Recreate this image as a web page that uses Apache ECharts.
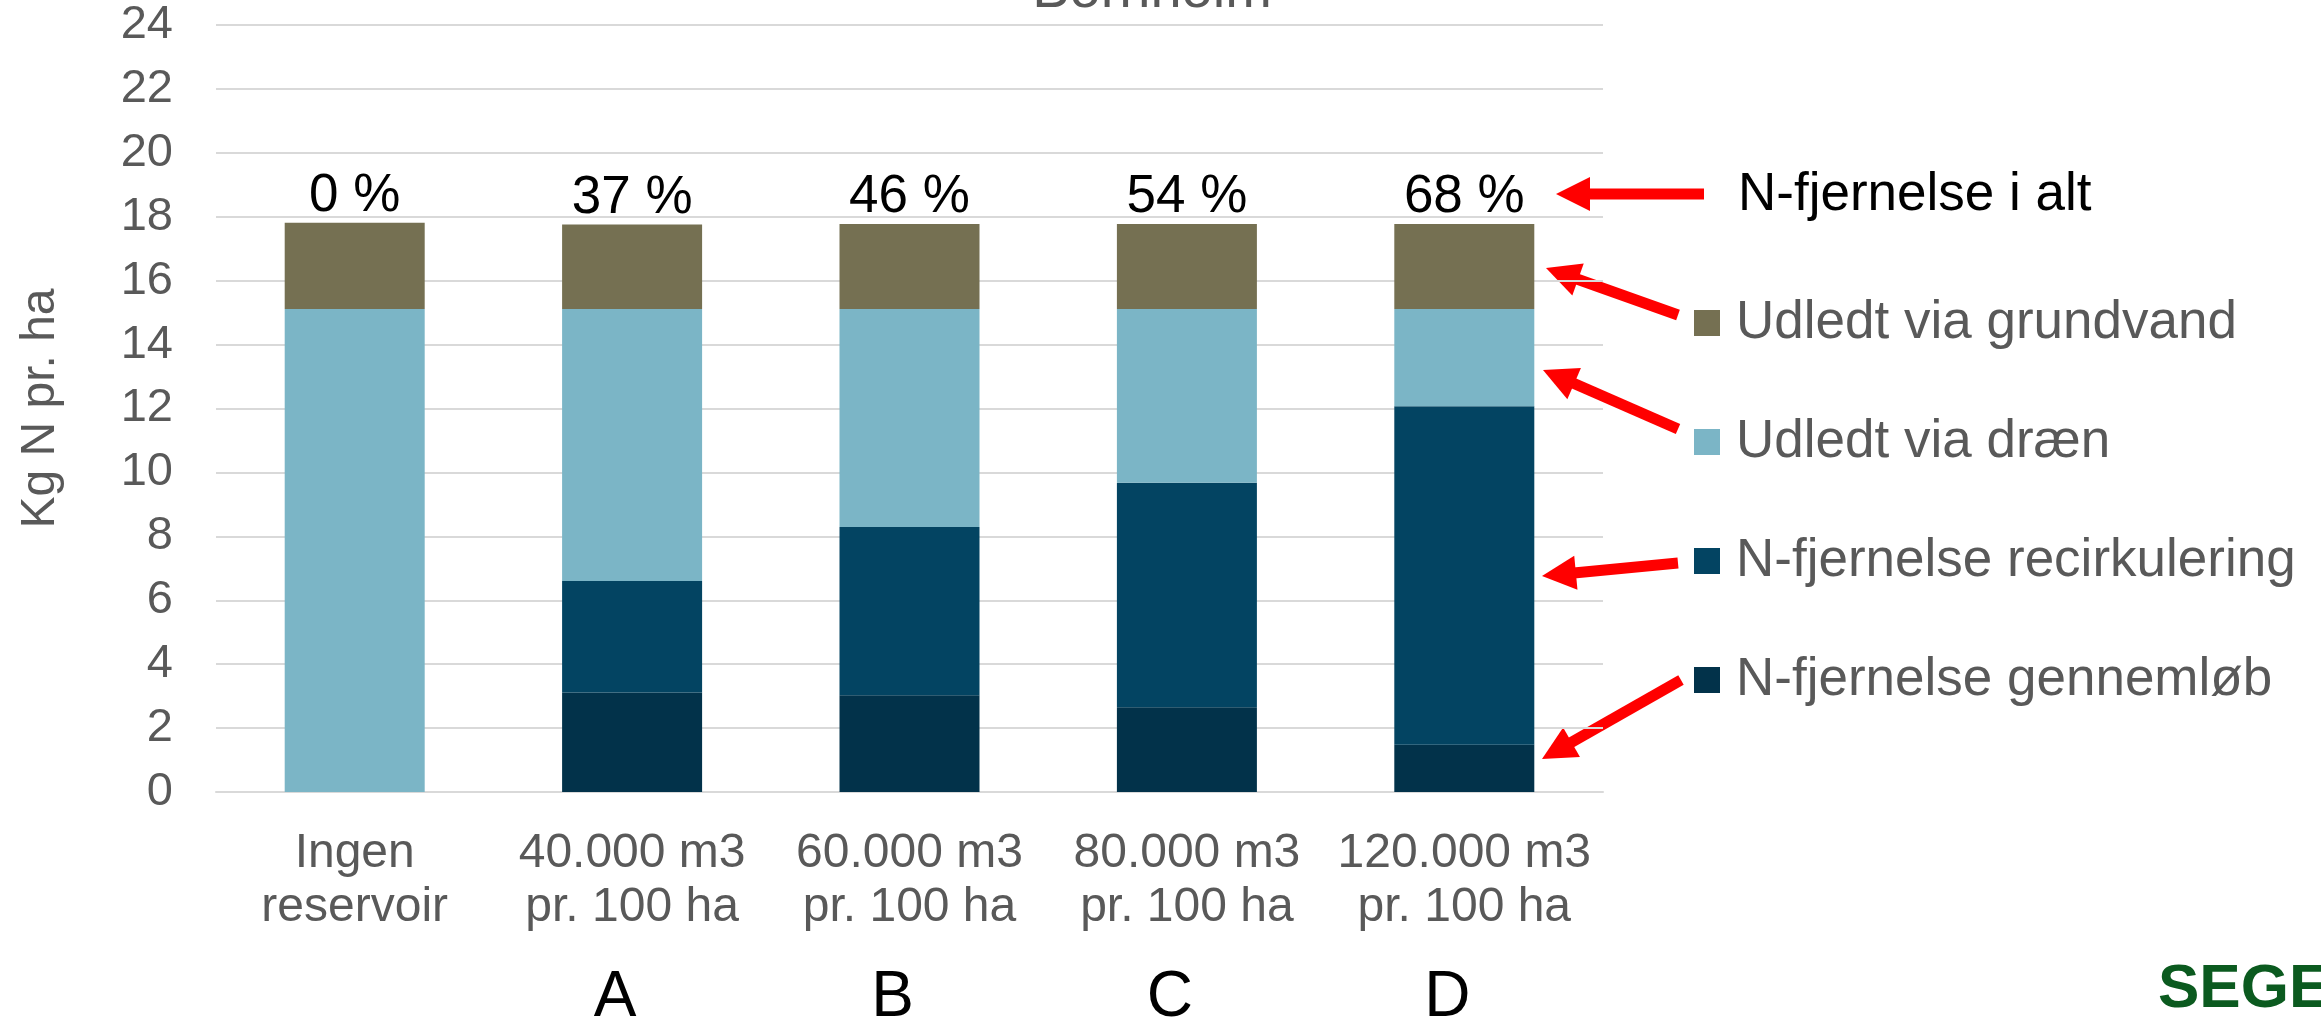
<!DOCTYPE html>
<html><head><meta charset="utf-8">
<script src="https://cdn.jsdelivr.net/npm/echarts@6/dist/echarts.min.js"></script>
<style>html,body{margin:0;padding:0;background:#fff}#c{width:2321px;height:1017px}</style>
</head><body><div id="c"></div>
<script>
// ---- data ----
const categories = ['Ingen\nreservoir', '40.000 m3\npr. 100 ha', '60.000 m3\npr. 100 ha', '80.000 m3\npr. 100 ha', '120.000 m3\npr. 100 ha'];
const scenarioLetters = ['', 'A', 'B', 'C', 'D'];
const gennemlob = [0, 3.11, 3.03, 2.65, 1.48];
const recirkulering = [0, 3.49, 5.26, 7.03, 10.59];
const draen = [15.11, 8.51, 6.82, 5.43, 3.04];
const grundvand = [2.70, 2.65, 2.66, 2.66, 2.66];
const removalPct = ['0 %', '37 %', '46 %', '54 %', '68 %'];
const seriesNames = ['N-fjernelse gennemløb', 'N-fjernelse recirkulering', 'Udledt via dræn', 'Udledt via grundvand'];
const legendOrder = ['Udledt via grundvand', 'Udledt via dræn', 'N-fjernelse recirkulering', 'N-fjernelse gennemløb'];
const yMin = 0, yMax = 24, yStep = 2;

const FONT = '"Liberation Sans", Arial, sans-serif';
const GREY = '#595959';
const colors = ['#02324a', '#034462', '#7bb5c6', '#757052'];

function arrow(tail, tip) {
  const dx = tip[0] - tail[0], dy = tip[1] - tail[1];
  const len = Math.hypot(dx, dy), ux = dx / len, uy = dy / len;
  const nx = -uy, ny = ux, L = 34, H = 17;
  const bx = tip[0] - ux * L, by = tip[1] - uy * L;
  return [
    { type: 'line', silent: true, shape: { x1: tail[0], y1: tail[1], x2: bx + ux * 2, y2: by + uy * 2 },
      style: { stroke: '#ff0000', lineWidth: 11, lineCap: 'butt' } },
    { type: 'polygon', silent: true, shape: { points: [tip, [bx + nx * H, by + ny * H], [bx - nx * H, by - ny * H]] },
      style: { fill: '#ff0000' } }
  ];
}

const arrows = [
  [[1704, 194], [1556, 194]],
  [[1678, 315], [1546, 268]],
  [[1678, 429], [1543, 370]],
  [[1678, 563], [1542, 576]],
  [[1681, 680], [1542, 759]]
];

const chart = echarts.init(document.getElementById('c'), null, { renderer: 'canvas' });
const data = [gennemlob, recirkulering, draen, grundvand];

chart.setOption({
  animation: false,
  backgroundColor: '#fff',
  textStyle: { fontFamily: FONT },
  grid: { left: 216, right: 718, top: 25, bottom: 225, containLabel: false, outerBoundsMode: 'none' },
  legend: {
    data: legendOrder,
    orient: 'vertical',
    left: 1689, top: 288,
    itemWidth: 26, itemHeight: 26, itemGap: 59,
    icon: 'rect',
    selectedMode: false,
    textStyle: { fontFamily: FONT, fontSize: 53, color: GREY, lineHeight: 60, padding: [0, 0, 0, 11] }
  },
  xAxis: [{
    type: 'category', data: categories,
    axisLine: { show: true, lineStyle: { color: '#d9d9d9', width: 2 } },
    axisTick: { show: false },
    axisLabel: { fontFamily: FONT, fontSize: 48, color: GREY, lineHeight: 54, margin: 35, interval: 0 }
  }, {
    type: 'category', data: scenarioLetters, position: 'bottom', offset: 163,
    axisLine: { show: false }, axisTick: { show: false },
    axisLabel: { fontFamily: FONT, fontSize: 64, color: '#000', lineHeight: 70, margin: 8, interval: 0, padding: [0, 34, 0, 0] }
  }],
  yAxis: {
    type: 'value', min: yMin, max: yMax, interval: yStep,
    name: 'Kg N pr. ha', nameLocation: 'middle', nameGap: 151, nameRotate: 90,
    nameTextStyle: { fontFamily: FONT, fontSize: 48, color: GREY },
    axisLine: { show: false }, axisTick: { show: false },
    axisLabel: { fontFamily: FONT, fontSize: 47, color: GREY, margin: 43 },
    splitLine: { lineStyle: { color: '#d9d9d9', width: 2 } }
  },
  series: seriesNames.map((name, i) => ({
    name, type: 'bar', stack: 'total', barWidth: 140, xAxisIndex: 0,
    data: data[i],
    itemStyle: { color: colors[i] },
    label: i === 3 ? {
      show: true, position: 'top', distance: 0,
      formatter: p => removalPct[p.dataIndex],
      fontFamily: FONT, fontSize: 53, color: '#000'
    } : { show: false }
  })),
  graphic: [
    { type: 'text', silent: true, style: { text: 'Bornholm', x: 1152, y: -8, align: 'center', verticalAlign: 'middle', font: '56px ' + FONT, fill: GREY } },
    { type: 'text', silent: true, style: { text: 'N-fjernelse i alt', x: 1738, y: 195, align: 'left', verticalAlign: 'middle', font: '53px ' + FONT, fill: '#000' } },
    { type: 'text', silent: true, style: { text: 'SEGES', x: 2158, y: 990, align: 'left', verticalAlign: 'middle', font: 'bold 62px ' + FONT, fill: '#0b5a1f' } }
  ].concat(...arrows.map(a => arrow(a[0], a[1])))
});
</script>
</body></html>
